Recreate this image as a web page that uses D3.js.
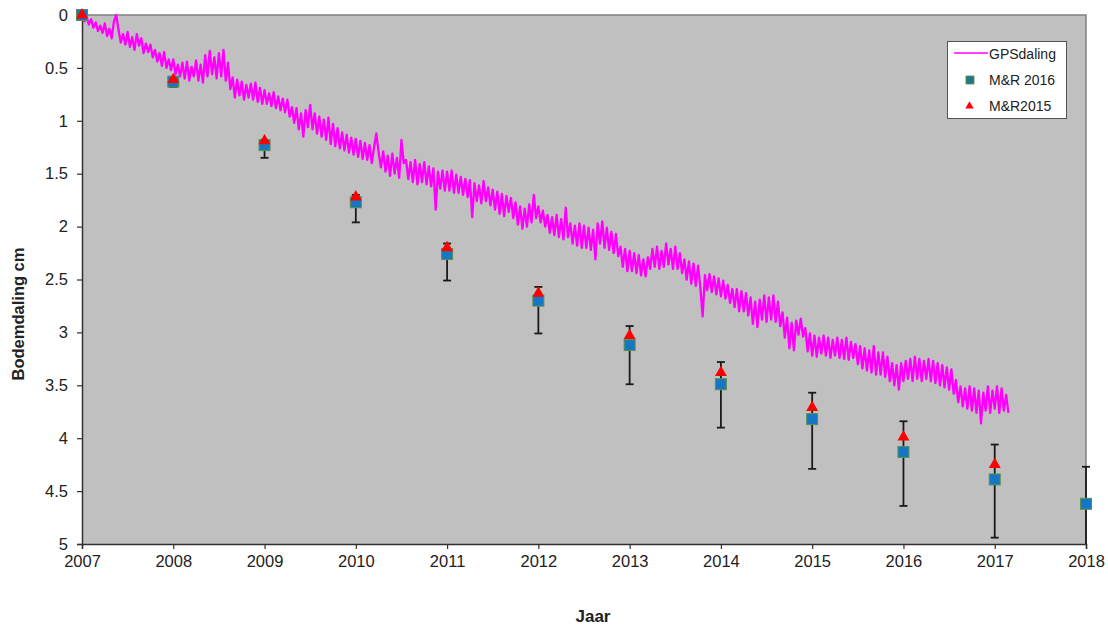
<!DOCTYPE html>
<html>
<head>
<meta charset="utf-8">
<script src="https://cdn.jsdelivr.net/npm/d3@7"></script>
<style>
  html, body { margin: 0; padding: 0; background: #ffffff; }
  svg { display: block; }
  text { font-family: "Liberation Sans", Arial, sans-serif; fill: #222; }
</style>
</head>
<body>
<svg id="chart" width="1108" height="627"></svg>
<script>
// Survey years and measured subsidence (cm, downward positive)
const years = [2007, 2008, 2009, 2010, 2011, 2012, 2013, 2014, 2015, 2016, 2017, 2018];
const mr2016 = [0, 0.63, 1.23, 1.77, 2.26, 2.70, 3.12, 3.49, 3.82, 4.13, 4.39, 4.62];
const mr2015 = [0, 0.61, 1.19, 1.72, 2.20, 2.63, 3.03, 3.38, 3.71, 3.99, 4.25, null];
// Uncertainty range of the M&R 2016 prognosis
const errLow  = [0, 0.60, 1.18, 1.70, 2.16, 2.57, 2.94, 3.28, 3.57, 3.84, 4.06, 4.27];
const errHigh = [0, 0.68, 1.35, 1.96, 2.51, 3.01, 3.49, 3.90, 4.29, 4.64, 4.94, 5.30];

// GPS measured subsidence, sampled every 0.025 year from 2007.0
const gpsStart = 2007;
const gpsStep = 0.025;
const gpsDaling = [
  0.00, 0.06, 0.02, 0.09, 0.04, 0.12, 0.07, 0.15, 0.10, 0.17,
  0.08, 0.20, 0.13, 0.22, 0.06, 0.00, 0.14, 0.26, 0.18, 0.28,
  0.16, 0.30, 0.21, 0.33, 0.18, 0.29, 0.22, 0.36, 0.27, 0.35,
  0.28, 0.40, 0.33, 0.44, 0.36, 0.48, 0.35, 0.50, 0.42, 0.52,
  0.42, 0.56, 0.47, 0.58, 0.45, 0.60, 0.44, 0.62, 0.49, 0.58,
  0.43, 0.62, 0.47, 0.64, 0.38, 0.58, 0.34, 0.56, 0.40, 0.60,
  0.36, 0.58, 0.33, 0.62, 0.45, 0.70, 0.59, 0.78, 0.61, 0.76,
  0.63, 0.80, 0.66, 0.78, 0.65, 0.80, 0.64, 0.82, 0.69, 0.84,
  0.71, 0.84, 0.74, 0.86, 0.73, 0.88, 0.77, 0.90, 0.79, 0.92,
  0.80, 0.96, 0.87, 1.02, 0.88, 1.08, 0.93, 1.15, 0.90, 1.06,
  0.85, 1.08, 0.93, 1.12, 0.96, 1.15, 0.99, 1.18, 0.97, 1.22,
  1.03, 1.24, 1.07, 1.26, 1.11, 1.28, 1.13, 1.30, 1.16, 1.32,
  1.17, 1.34, 1.19, 1.36, 1.21, 1.37, 1.23, 1.40, 1.25, 1.12,
  1.30, 1.44, 1.29, 1.48, 1.33, 1.52, 1.31, 1.50, 1.35, 1.54,
  1.18, 1.40, 1.37, 1.55, 1.39, 1.58, 1.37, 1.60, 1.41, 1.58,
  1.39, 1.60, 1.43, 1.62, 1.45, 1.84, 1.48, 1.64, 1.47, 1.66,
  1.48, 1.66, 1.47, 1.68, 1.51, 1.68, 1.53, 1.70, 1.55, 1.72,
  1.56, 1.91, 1.59, 1.76, 1.61, 1.78, 1.57, 1.76, 1.63, 1.80,
  1.65, 1.84, 1.67, 1.88, 1.69, 1.90, 1.71, 1.86, 1.73, 1.92,
  1.77, 1.98, 1.81, 2.02, 1.83, 2.00, 1.79, 1.96, 1.70, 1.92,
  1.81, 1.96, 1.85, 2.00, 1.89, 2.06, 1.91, 2.08, 1.89, 2.10,
  1.93, 2.12, 1.82, 2.10, 1.97, 2.16, 1.99, 2.18, 1.97, 2.20,
  1.99, 2.20, 2.01, 2.22, 2.03, 2.31, 1.97, 2.16, 1.95, 2.20,
  2.01, 2.22, 2.05, 2.25, 2.07, 2.28, 2.19, 2.38, 2.21, 2.42,
  2.23, 2.42, 2.25, 2.44, 2.27, 2.46, 2.31, 2.47, 2.29, 2.40,
  2.21, 2.38, 2.19, 2.40, 2.23, 2.38, 2.16, 2.36, 2.21, 2.40,
  2.19, 2.40, 2.25, 2.44, 2.31, 2.50, 2.33, 2.54, 2.35, 2.56,
  2.37, 2.58, 2.85, 2.46, 2.60, 2.45, 2.62, 2.47, 2.64, 2.49,
  2.66, 2.51, 2.68, 2.55, 2.72, 2.59, 2.76, 2.59, 2.80, 2.61,
  2.80, 2.63, 2.84, 2.67, 2.92, 2.71, 2.95, 2.69, 2.88, 2.65,
  2.90, 2.67, 2.88, 2.65, 2.90, 2.71, 2.94, 2.81, 3.05, 2.86,
  3.15, 2.91, 3.17, 2.89, 3.02, 2.87, 3.04, 2.96, 3.18, 3.01,
  3.22, 3.03, 3.23, 3.05, 3.20, 3.03, 3.22, 3.05, 3.24, 3.07,
  3.22, 3.05, 3.24, 3.07, 3.25, 3.05, 3.26, 3.09, 3.24, 3.11,
  3.30, 3.13, 3.34, 3.15, 3.36, 3.17, 3.38, 3.13, 3.40, 3.19,
  3.40, 3.19, 3.42, 3.23, 3.46, 3.29, 3.50, 3.31, 3.54, 3.29,
  3.46, 3.27, 3.44, 3.25, 3.46, 3.23, 3.44, 3.25, 3.46, 3.27,
  3.44, 3.25, 3.46, 3.27, 3.48, 3.29, 3.50, 3.31, 3.52, 3.33,
  3.54, 3.35, 3.58, 3.45, 3.66, 3.51, 3.70, 3.53, 3.72, 3.51,
  3.74, 3.53, 3.76, 3.55, 3.86, 3.57, 3.74, 3.51, 3.76, 3.55,
  3.72, 3.51, 3.76, 3.53, 3.74, 3.59, 3.76
];

const yTicks = [0, 0.5, 1, 1.5, 2, 2.5, 3, 3.5, 4, 4.5, 5];
const seriesNames = ["GPSdaling", "M&R 2016", "M&R2015"];

const colGps = "#ff00ff";
const colSquare = "#1577c4";
const colSquareEdge = "#5f8f4f";
const colTriangle = "#ff0000";

const svg = d3.select("#chart");
const plot = { left: 82, right: 1086, top: 15, bottom: 544 };

const x = d3.scaleLinear().domain([2007, 2018]).range([plot.left, plot.right]);
const y = d3.scaleLinear().domain([0, 5]).range([plot.top, plot.bottom]);

// Plot background and frame
svg.append("rect")
  .attr("x", plot.left).attr("y", plot.top)
  .attr("width", plot.right - plot.left).attr("height", plot.bottom - plot.top)
  .attr("fill", "#c0c0c0");
svg.append("path")
  .attr("d", `M${plot.left},${plot.top}H${plot.right}V${plot.bottom}`)
  .attr("fill", "none").attr("stroke", "#808080").attr("stroke-width", 1.5);

svg.append("clipPath").attr("id", "plotclip")
  .append("rect")
  .attr("x", plot.left).attr("y", plot.top - 8)
  .attr("width", plot.right - plot.left + 8).attr("height", plot.bottom - plot.top + 8);

// Axes
const xAxis = svg.append("g")
  .attr("transform", `translate(0,${plot.bottom})`)
  .call(d3.axisBottom(x).tickValues(years).tickFormat(d3.format("d")).tickSize(5).tickPadding(6));
const yAxis = svg.append("g")
  .attr("transform", `translate(${plot.left},0)`)
  .call(d3.axisLeft(y).tickValues(yTicks).tickFormat(d => String(d)).tickSize(5).tickPadding(9));
[xAxis, yAxis].forEach(g => {
  g.select(".domain").attr("stroke", "#303030").attr("stroke-width", 1.5);
  g.selectAll(".tick line").attr("stroke", "#303030").attr("stroke-width", 1.2);
  g.selectAll(".tick text")
    .style("font-family", '"Liberation Sans", Arial, sans-serif')
    .style("font-size", "16.5px").attr("fill", "#222");
});

// Axis titles
svg.append("text")
  .attr("x", 593).attr("y", 622)
  .attr("text-anchor", "middle")
  .style("font-size", "17px").style("font-weight", "bold")
  .text("Jaar");
svg.append("text")
  .attr("transform", "translate(24,314) rotate(-90)")
  .attr("text-anchor", "middle")
  .style("font-size", "16.5px").style("font-weight", "bold")
  .text("Bodemdaling cm");

// GPS series
const gpsPoints = gpsDaling.map((v, i) => [gpsStart + i * gpsStep, v]);
svg.append("path")
  .datum(gpsPoints)
  .attr("clip-path", "url(#plotclip)")
  .attr("fill", "none")
  .attr("stroke", colGps)
  .attr("stroke-width", 2.3)
  .attr("stroke-linejoin", "round")
  .attr("d", d3.line().x(d => x(d[0])).y(d => y(d[1])));

// Error bars
const bars = svg.append("g").attr("clip-path", "url(#plotclip)");
years.forEach((yr, i) => {
  if (errHigh[i] === errLow[i]) return;
  const g = bars.append("g").attr("stroke", "#1a1a1a").attr("stroke-width", 1.8);
  const xc = x(yr);
  g.append("line").attr("x1", xc).attr("x2", xc).attr("y1", y(errLow[i])).attr("y2", y(errHigh[i]));
  g.append("line").attr("x1", xc - 4).attr("x2", xc + 4).attr("y1", y(errLow[i])).attr("y2", y(errLow[i]));
  g.append("line").attr("x1", xc - 4).attr("x2", xc + 4).attr("y1", y(errHigh[i])).attr("y2", y(errHigh[i]));
});

// M&R 2016 squares
const sq = 11;
svg.append("g").selectAll("rect")
  .data(years.map((yr, i) => [yr, mr2016[i]]))
  .join("rect")
  .attr("x", d => x(d[0]) - sq / 2).attr("y", d => y(d[1]) - sq / 2)
  .attr("width", sq).attr("height", sq)
  .attr("fill", colSquare).attr("stroke", colSquareEdge).attr("stroke-width", 1);

// M&R2015 triangles
const tri = d3.symbol().type(d3.symbolTriangle).size(62);
svg.append("g").selectAll("path")
  .data(years.map((yr, i) => [yr, mr2015[i]]).filter(d => d[1] !== null))
  .join("path")
  .attr("transform", d => `translate(${x(d[0])},${y(d[1])})`)
  .attr("d", tri)
  .attr("fill", colTriangle);

// Legend
const lg = svg.append("g");
lg.append("rect")
  .attr("x", 947.5).attr("y", 41.5).attr("width", 119).attr("height", 77)
  .attr("fill", "#ffffff").attr("stroke", "#555").attr("stroke-width", 1);
lg.append("line").attr("x1", 954).attr("x2", 988).attr("y1", 53).attr("y2", 53)
  .attr("stroke", colGps).attr("stroke-width", 1.6);
lg.append("rect").attr("x", 966).attr("y", 76).attr("width", 8).attr("height", 8)
  .attr("fill", "#20778a").attr("stroke", colSquareEdge).attr("stroke-width", 0.8);
lg.append("path").attr("transform", "translate(969.5,106)")
  .attr("d", d3.symbol().type(d3.symbolTriangle).size(30)).attr("fill", colTriangle);
[[59, seriesNames[0]], [85, seriesNames[1]], [111, seriesNames[2]]].forEach(([ty, label]) => {
  lg.append("text").attr("x", 989).attr("y", ty)
    .style("font-size", "14px").attr("fill", "#222").text(label);
});
</script>
</body>
</html>
